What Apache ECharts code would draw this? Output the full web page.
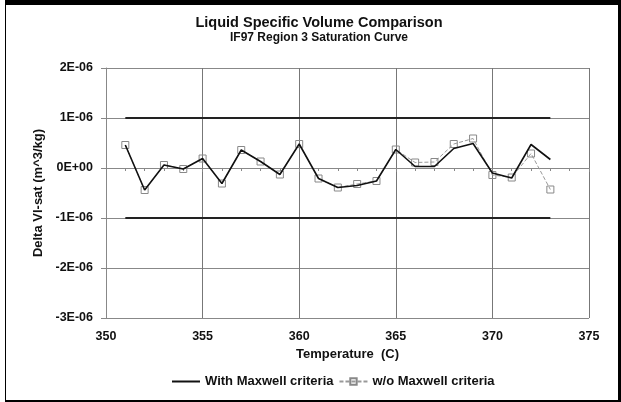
<!DOCTYPE html>
<html>
<head>
<meta charset="utf-8">
<script src="https://cdn.jsdelivr.net/npm/echarts@6/dist/echarts.min.js"></script>
<style>
  html, body { margin: 0; padding: 0; background: #fff; }
  #chart { position: absolute; left: 0; top: 0; width: 621px; height: 402px; }
  #frame { position: absolute; left: 5px; top: 0; width: 616px; height: 402px; box-sizing: border-box;
           border-left: 1px solid #000; border-top: 5px solid #000; border-right: 3px solid #000;
           border-bottom: 2px solid #000; pointer-events: none; }
</style>
</head>
<body>
<div id="chart"></div>
<div id="frame"></div>
<script>
var temps = [351, 352, 353, 354, 355, 356, 357, 358, 359, 360, 361, 362,
             363, 364, 365, 366, 367, 368, 369, 370, 371, 372, 373];

var withMaxwell = [4.6e-7, -4.4e-7, 0.6e-7, -0.2e-7, 1.9e-7, -3.1e-7, 3.6e-7, 1.3e-7,
                   -1.3e-7, 4.8e-7, -2.1e-7, -3.9e-7, -3.5e-7, -2.6e-7, 3.7e-7, 0.3e-7,
                   0.3e-7, 3.9e-7, 4.9e-7, -1.0e-7, -2.0e-7, 4.7e-7, 1.7e-7];

var withoutMaxwell = [4.6e-7, -4.4e-7, 0.6e-7, -0.2e-7, 1.9e-7, -3.1e-7, 3.6e-7, 1.3e-7,
                      -1.3e-7, 4.8e-7, -2.1e-7, -3.9e-7, -3.2e-7, -2.6e-7, 3.7e-7, 1.1e-7,
                      1.2e-7, 4.8e-7, 5.9e-7, -1.4e-7, -1.9e-7, 2.9e-7, -4.3e-7];

var limitX = [351, 373];
var upperLimit = [1e-6, 1e-6];
var lowerLimit = [-1e-6, -1e-6];

function pairs(xs, ys) {
    return xs.map(function (x, i) { return [x, ys[i]]; });
}

// 2e-6 -> "2E-06", 0 -> "0E+00"
function sciLabel(v) {
    if (Math.abs(v) < 1e-15) return '0E+00';
    var s = v.toExponential(0).toUpperCase();
    return s.replace(/E([+-])(\d)$/, 'E$10$2');
}

var font = 'Liberation Sans, Arial, sans-serif';
var myChart = echarts.init(document.getElementById('chart'));

var option = {
    animation: false,
    backgroundColor: '#fff',
    textStyle: { fontFamily: font },
    title: {
        text: 'Liquid Specific Volume Comparison',
        subtext: 'IF97 Region 3 Saturation Curve',
        left: 314,
        textAlign: 'center',
        top: 10,
        itemGap: 2,
        textStyle: { fontSize: 14.5, fontWeight: 'bold', color: '#111', fontFamily: font },
        subtextStyle: { fontSize: 12, fontWeight: 'bold', color: '#111', fontFamily: font }
    },
    grid: { left: 106, right: 32, top: 68, bottom: 84 },
    legend: {
        data: [
            { name: 'With Maxwell criteria', itemStyle: { opacity: 0 } },
            { name: 'w/o Maxwell criteria' }
        ],
        bottom: 9,
        left: 166,
        itemWidth: 28,
        itemHeight: 8,
        itemGap: 5,
        textStyle: { fontSize: 13, fontWeight: 'bold', color: '#111', fontFamily: font }
    },
    xAxis: {
        type: 'value',
        min: 350,
        max: 375,
        interval: 5,
        name: 'Temperature  (C)',
        nameLocation: 'middle',
        nameGap: 28,
        nameTextStyle: { fontSize: 13, fontWeight: 'bold', color: '#111' },
        axisLine: { lineStyle: { color: '#888', width: 1 } },
        axisTick: { show: true, length: 4, lineStyle: { color: '#888' } },
        minorTick: { show: true, splitNumber: 5, length: 3, lineStyle: { color: '#888' } },
        axisLabel: { fontSize: 12.5, fontWeight: 'bold', color: '#111', margin: 12 },
        splitLine: { show: true, lineStyle: { color: '#777', width: 1 } }
    },
    yAxis: {
        type: 'value',
        min: -3e-6,
        max: 2e-6,
        interval: 1e-6,
        name: 'Delta Vl-sat (m^3/kg)',
        nameLocation: 'middle',
        nameGap: 53,
        nameTextStyle: { fontSize: 13, fontWeight: 'bold', color: '#111' },
        axisLine: { show: true, lineStyle: { color: '#888', width: 1 } },
        axisTick: { show: true, length: 5, lineStyle: { color: '#888' } },
        axisLabel: { fontSize: 12.5, fontWeight: 'bold', color: '#111', margin: 13, formatter: sciLabel },
        splitLine: { show: true, lineStyle: { color: '#888', width: 1 } }
    },
    series: [
        {
            name: 'upper',
            type: 'line',
            data: pairs(limitX, upperLimit),
            symbol: 'none',
            lineStyle: { color: '#222', width: 2 },
            silent: true
        },
        {
            name: 'lower',
            type: 'line',
            data: pairs(limitX, lowerLimit),
            symbol: 'none',
            lineStyle: { color: '#222', width: 2 },
            silent: true
        },
        {
            name: 'w/o Maxwell criteria',
            type: 'line',
            data: pairs(temps, withoutMaxwell),
            symbol: 'rect',
            symbolSize: 7,
            itemStyle: { color: 'rgba(255,255,255,0)', borderColor: '#888', borderWidth: 1 },
            lineStyle: { color: '#999', width: 1, type: [4, 2] },
            z: 3
        },
        {
            name: 'With Maxwell criteria',
            type: 'line',
            data: pairs(temps, withMaxwell),
            symbol: 'none',
            itemStyle: { color: '#111' },
            lineStyle: { color: '#111', width: 1.6 },
            z: 4
        }
    ]
};

myChart.setOption(option);
</script>
</body>
</html>
